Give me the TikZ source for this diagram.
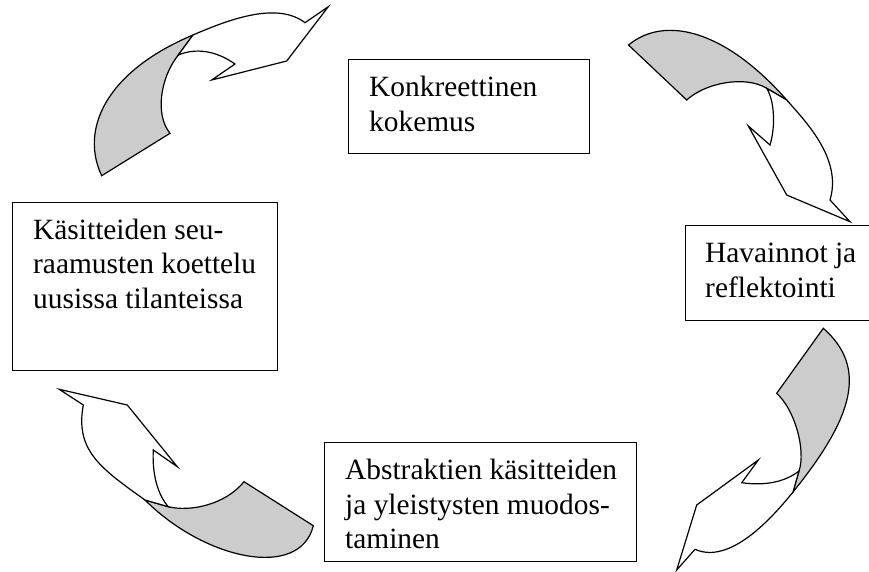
\documentclass[tikz,border=0pt]{standalone}
\usepackage{fontspec}
\setmainfont{Liberation Serif}
\usetikzlibrary{positioning}
\begin{document}
\begin{tikzpicture}[x=1pt, y=-1pt,
    box/.style={draw, line width=1.3pt, anchor=north west, inner sep=0pt},
    txt/.style={inner sep=0pt, align=left, font=\fontsize{29.4}{34.5}\selectfont},
    back/.style={draw, line width=1.2pt, fill=gray!40},
    front/.style={draw, line width=1.2pt, fill=white}]
    \useasboundingbox (0,0) rectangle (869,571);

    \node[box, minimum width=241pt, minimum height=94pt] (kokemus) at (348,59) {};
    \node[box, minimum width=195pt, minimum height=95pt] (havainnot) at (685,225) {};
    \node[box, minimum width=265pt, minimum height=168pt] (koettelu) at (12,202) {};
    \node[box, minimum width=312pt, minimum height=119pt] (abstrakti) at (324,442) {};

    \node[txt, below right=13.5pt and 21pt of kokemus.north west] (kokemus-t) {\strut Konkreettinen\\kokemus};
    \node[txt, below right=13.5pt and 20pt of havainnot.north west] (havainnot-t) {\strut Havainnot ja\\reflektointi};
    \node[txt, below right=13pt and 21pt of koettelu.north west] (koettelu-t) {\strut Käsitteiden seu-\\raamusten koettelu\\uusissa tilanteissa};
    \node[txt, below right=13.5pt and 21pt of abstrakti.north west] (abstrakti-t) {\strut Abstraktien käsitteiden\\ja yleistysten muodos-\\taminen};

    % top left
    \draw[back] (101.7,175.7) .. controls (80,130) and (105,72) .. (193,35) -- (178.3,55)
        .. controls (160,78) and (155,115) .. (170,133.3) -- cycle;
    \draw[front] (193,35) .. controls (232,18) and (278,2) .. (305,22.7) -- (328.3,6.7) -- (286.7,61)
        -- (211.7,80) -- (235,64) .. controls (215,50) and (195,48) .. (178.3,55) -- cycle;
    % top right
    \draw[back] (628.5,45) .. controls (665,15) and (725,30) .. (786.7,100) -- (766.7,88.3)
        .. controls (745,75) and (705,83) .. (686.7,100) -- cycle;
    \draw[front] (786.7,100) .. controls (808,124) and (842,160) .. (830,200) -- (850,221.7) -- (786.7,195)
        -- (748.3,126) -- (770,145) .. controls (776,125) and (774,100) .. (766.7,88.3) -- cycle;
    % bottom right
    \draw[back] (823.3,328.3) .. controls (868.3,367.9) and (852.9,417.9) .. (793,492) -- (799,471)
        .. controls (806,450) and (795,410) .. (776.7,393.3) -- cycle;
    \draw[front] (793,492) .. controls (772,518) and (730,565) .. (695,549.3) -- (676.7,570) -- (696.7,505)
        -- (758.3,460) -- (741.7,482.7) .. controls (765,486) and (785,482) .. (799,471) -- cycle;
    % bottom left
    \draw[back] (313.3,525.7) .. controls (300,580) and (205,560) .. (145,500) -- (168.3,506.7)
        .. controls (190,512) and (225,505) .. (244,481.7) -- cycle;
    \draw[front] (145,500) .. controls (100,468) and (75,450) .. (83.3,405) -- (59.3,389.3) -- (127.3,405)
        -- (177.3,466.7) -- (153.3,450) .. controls (152,475) and (158,495) .. (168.3,506.7) -- cycle;
\end{tikzpicture}
\end{document}
